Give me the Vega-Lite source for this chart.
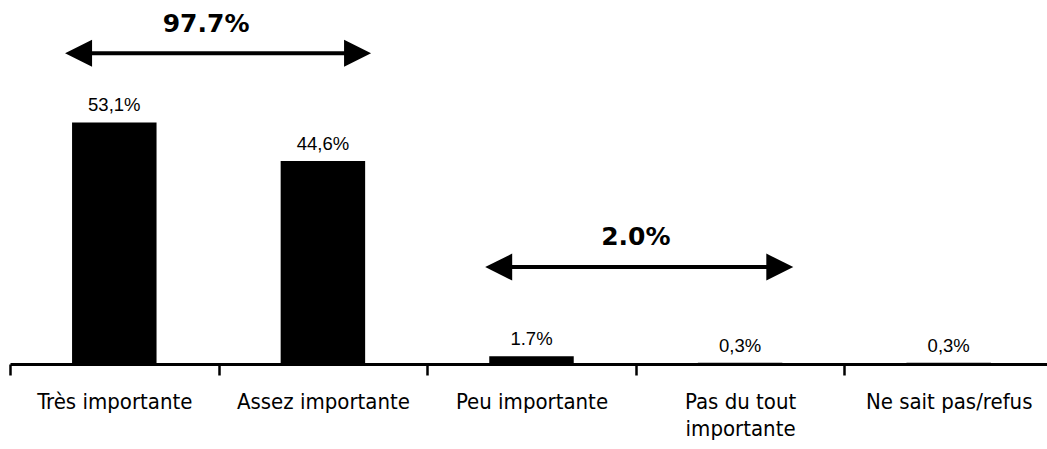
{
  "$schema": "https://vega.github.io/schema/vega-lite/v6.json",
  "width": 1037,
  "height": 364,
  "autosize": {"type": "none"},
  "padding": {"left": 10, "top": 0, "right": 0, "bottom": 85},
  "background": "white",
  "config": {"view": {"stroke": null}},
  "datasets": {
    "bars": [
      {"category": "Très importante", "value": 53.1, "label": "53,1%"},
      {"category": "Assez importante", "value": 44.6, "label": "44,6%"},
      {"category": "Peu importante", "value": 1.7, "label": "1.7%"},
      {"category": "Pas du tout importante", "value": 0.3, "label": "0,3%"},
      {"category": "Ne sait pas/refus", "value": 0.3, "label": "0,3%"}
    ],
    "arrows": [
      {"start": 0.264, "end": 1.731, "level": 68.3, "textPos": 0.94, "textLevel": 73.0, "text": "97.7%"},
      {"start": 2.278, "end": 3.755, "level": 21.3, "textPos": 3.0, "textLevel": 26.2, "text": "2.0%"}
    ]
  },
  "layer": [
    {
      "data": {"name": "bars"},
      "encoding": {
        "x": {
          "field": "category",
          "type": "nominal",
          "sort": null,
          "scale": {"range": [0, 1043], "paddingInner": 0, "paddingOuter": 0},
          "axis": {
            "title": null,
            "labelAngle": 0,
            "tickBand": "extent",
            "domainColor": "black",
            "domainWidth": 3,
            "tickColor": "black",
            "tickWidth": 2.5,
            "tickSize": 11,
            "labelFont": "DejaVu Sans Condensed",
            "labelFontSize": 22,
            "labelColor": "black",
            "labelPadding": 16,
            "labelLineHeight": 27,
            "labelLimit": 400,
            "labelOverlap": false,
            "labelBound": false,
            "labelFlush": false,
            "grid": false,
            "labelExpr": "datum.value == 'Pas du tout importante' ? ['Pas du tout', 'importante'] : datum.value"
          }
        },
        "y": {
          "field": "value",
          "type": "quantitative",
          "scale": {"domain": [0, 80]},
          "axis": null
        }
      },
      "layer": [
        {"mark": {"type": "bar", "color": "black", "width": {"band": 0.405}}},
        {
          "mark": {"type": "text", "font": "Liberation Sans", "fontSize": 18.5, "color": "black", "baseline": "alphabetic", "align": "center", "dy": -11},
          "encoding": {"text": {"field": "label"}}
        }
      ]
    },
    {
      "data": {"name": "arrows"},
      "layer": [
        {
          "mark": {"type": "rule", "color": "black", "strokeWidth": 4, "xOffset": 10, "x2Offset": -10},
          "encoding": {
            "x": {"field": "start", "type": "quantitative", "scale": {"domain": [0, 5], "range": [0, 1043], "nice": false, "zero": false}, "axis": null},
            "x2": {"field": "end"},
            "y": {"field": "level", "type": "quantitative", "scale": {"domain": [0, 80]}, "axis": null}
          }
        },
        {
          "mark": {"type": "point", "shape": "M0,0L2,-1L2,1Z", "size": 729, "filled": true, "color": "black", "opacity": 1, "strokeWidth": 0},
          "encoding": {
            "x": {"field": "start", "type": "quantitative", "scale": {"domain": [0, 5], "range": [0, 1043], "nice": false, "zero": false}, "axis": null},
            "y": {"field": "level", "type": "quantitative", "scale": {"domain": [0, 80]}, "axis": null}
          }
        },
        {
          "mark": {"type": "point", "shape": "M0,0L-2,-1L-2,1Z", "size": 729, "filled": true, "color": "black", "opacity": 1, "strokeWidth": 0},
          "encoding": {
            "x": {"field": "end", "type": "quantitative", "scale": {"domain": [0, 5], "range": [0, 1043], "nice": false, "zero": false}, "axis": null},
            "y": {"field": "level", "type": "quantitative", "scale": {"domain": [0, 80]}, "axis": null}
          }
        },
        {
          "mark": {"type": "text", "font": "DejaVu Sans", "fontWeight": "bold", "fontSize": 25, "color": "black", "baseline": "alphabetic", "align": "center"},
          "encoding": {
            "x": {"field": "textPos", "type": "quantitative", "scale": {"domain": [0, 5], "range": [0, 1043], "nice": false, "zero": false}, "axis": null},
            "y": {"field": "textLevel", "type": "quantitative", "scale": {"domain": [0, 80]}, "axis": null},
            "text": {"field": "text"}
          }
        }
      ]
    }
  ],
  "resolve": {"scale": {"x": "independent"}, "axis": {"x": "independent"}}
}
